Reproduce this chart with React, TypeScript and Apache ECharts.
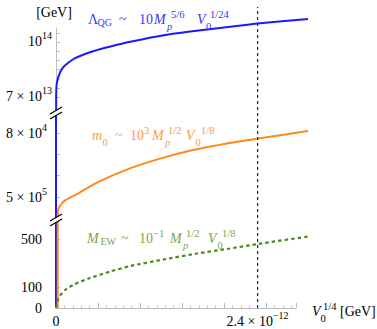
import React, { useEffect, useRef } from "react";
import * as echarts from "echarts";

const SERIF = '"Liberation Serif", "Times New Roman", Times, serif';

// x values are V0^{1/4} in units of 1e-12 GeV
const blueX = [0, 0.002, 0.01, 0.05, 0.1, 0.2, 0.3, 0.45, 0.65, 0.9, 1.3, 1.7, 2.1, 2.4, 3.0];
const blueY = [0, 7.0e13, 7.764e13, 8.364e13, 8.691e13, 9.045e13, 9.264e13, 9.509e13, 9.755e13, 1.0027e14, 1.0382e14, 1.0627e14, 1.0845e14, 1.1009e14, 1.1255e14];

const orangeX = [0.02, 0.021, 0.03, 0.05, 0.095, 0.25, 0.5, 0.881, 1.238, 1.631, 2.036, 2.405, 3.0];
const orangeY = [0, 4.2e5, 4.45e5, 4.6e5, 4.81e5, 5.14e5, 5.7e5, 6.34e5, 6.8e5, 7.2e5, 7.51e5, 7.74e5, 8.09e5];

const greenX = [0.004, 0.006, 0.024, 0.048, 0.107, 0.226, 0.405, 0.643, 0.881, 1.274, 1.679, 2.071, 2.405, 3.0];
const greenY = [0, 14.5, 58, 90.6, 130, 174, 217, 264, 304, 351, 395, 431, 464, 518];

const dashedX = 2.4;

// x tick labels
const xLabelValues = [0, 2.4];
const xLabelBase = ["0", "2.4 × 10"];
const xLabelExp = ["", "−12"];

// y tick labels (three broken segments)
const topTicks = [7e13, 7.5e13, 8e13, 8.5e13, 9e13, 9.5e13, 1e14, 1.05e14];
const topLabelValues = [7e13, 1e14];
const topLabelBase = ["7 × 10", "10"];
const topLabelExp = ["13", "14"];

const midTicks = [5e5, 6e5, 7e5, 8e5];
const midLabelValues = [5e5, 8e5];
const midLabelBase = ["5 × 10", "8 × 10"];
const midLabelExp = ["5", "4"];

const botTicks = [0, 152, 500];
const botLabelValues = [0, 152, 500];
const botLabelBase = ["0", "100", "500"];
const botLabelExp = ["", "", ""];

const BLUE = "#1a1aff";
const ORANGE = "#ff8a1a";
const GREEN = "#4b8a1e";
const BLUE_TXT = "#3434ff";
const ORANGE_TXT = "#ff9a40";
const GREEN_TXT = "#78a64a";
const TICK = "#bdbdbd";

// text pieces: t = text, k = kind, x = left edge (px)
type Piece = { t: string; k: "n" | "i" | "sub" | "subl" | "subli" | "sup"; x: number };

const bluePieces: Piece[] = [
  { t: "Λ", k: "n", x: 88 },
  { t: "QG", k: "sub", x: 97.5 },
  { t: "~", k: "n", x: 119 },
  { t: "10", k: "n", x: 139 },
  { t: "M", k: "i", x: 154 },
  { t: "p", k: "subli", x: 167 },
  { t: "5/6", k: "sup", x: 171 },
  { t: "V", k: "i", x: 197 },
  { t: "0", k: "subl", x: 206 },
  { t: "1/24", k: "sup", x: 210 },
];
const orangePieces: Piece[] = [
  { t: "m", k: "i", x: 92 },
  { t: "0", k: "subl", x: 102.5 },
  { t: "~", k: "n", x: 115 },
  { t: "10", k: "n", x: 130 },
  { t: "3", k: "sup", x: 144 },
  { t: "M", k: "i", x: 152 },
  { t: "p", k: "subli", x: 165 },
  { t: "1/2", k: "sup", x: 168 },
  { t: "V", k: "i", x: 186 },
  { t: "0", k: "subl", x: 195.5 },
  { t: "1/8", k: "sup", x: 201 },
];
const greenPieces: Piece[] = [
  { t: "M", k: "i", x: 87 },
  { t: "EW", k: "sub", x: 100.5 },
  { t: "~", k: "n", x: 121 },
  { t: "10", k: "n", x: 139 },
  { t: "−1", k: "sup", x: 153 },
  { t: "M", k: "i", x: 170 },
  { t: "p", k: "subli", x: 183 },
  { t: "1/2", k: "sup", x: 186 },
  { t: "V", k: "i", x: 208 },
  { t: "0", k: "subl", x: 217.5 },
  { t: "1/8", k: "sup", x: 222 },
];
const xNamePieces: Piece[] = [
  { t: "V", k: "i", x: 312 },
  { t: "0", k: "subl", x: 320.5 },
  { t: "1/4", k: "sup", x: 323 },
  { t: "[GeV]", k: "n", x: 340 },
];

function labelEls(pieces: Piece[], y: number, color: string) {
  return pieces.map((p) => {
    const big = p.k === "n" || p.k === "i";
    const dy = p.k === "sub" ? 3.5 : p.k === "subl" || p.k === "subli" ? 7 : p.k === "sup" ? -5 : 0;
    return {
      type: "text",
      z: 102,
      x: p.x,
      y: y + dy,
      style: {
        text: p.t,
        fill: color,
        fontFamily: SERIF,
        fontSize: big ? 14 : p.k === "sub" ? 10 : 10.5,
        fontStyle: p.k === "i" || p.k === "subli" ? "italic" : "normal",
        align: "left",
        verticalAlign: "middle",
      },
    };
  });
}

function labelFormatter(values: number[], bases: string[], exps: string[], expStyle: string) {
  return (v: number) => {
    let idx = -1;
    let best = Infinity;
    values.forEach((t, i) => {
      const d = Math.abs(t - v);
      if (d < best) {
        best = d;
        idx = i;
      }
    });
    if (idx < 0 || best > Math.abs(values[idx]) * 1e-6 + 1e-9) return "";
    const b = bases[idx];
    const e = exps[idx];
    return e ? `{n|${b}}{${expStyle}|${e}}` : `{n|${b}}`;
  };
}

const axisRich = {
  n: { fontSize: 14, fontFamily: SERIF, color: "#000", align: "left" },
  e: { fontSize: 10, fontFamily: SERIF, color: "#000", width: 0.01, align: "left", padding: [0, 0, 12, 0] },
  ex: { fontSize: 10, fontFamily: SERIF, color: "#000", align: "left", padding: [0, 0, 12, 0] },
};

function panelY(gridIndex: number, min: number, max: number, ticks: number[], lv: number[], lb: string[], le: string[]) {
  return {
    type: "value",
    gridIndex,
    min,
    max,
    axisLine: { show: false },
    splitLine: { show: false },
    axisTick: { show: true, inside: true, length: 4, customValues: ticks, lineStyle: { color: TICK, width: 1 } },
    axisLabel: { show: true, customValues: lv, margin: 14, formatter: labelFormatter(lv, lb, le, "e"), rich: axisRich },
  };
}

function hiddenX(gridIndex: number) {
  return { type: "value", gridIndex, min: 0, max: 3, show: false, splitLine: { show: false } };
}

const pairs = (xs: number[], ys: number[]) => xs.map((x, i) => [x, ys[i]]);

function lineSeries(name: string, data: number[][], idx: number, color: string, width: number, type: any = "solid") {
  return {
    type: "line",
    name,
    xAxisIndex: idx,
    yAxisIndex: idx,
    data,
    showSymbol: false,
    symbol: "none",
    smooth: 0.2,
    lineStyle: { color, width, type },
    silent: true,
    clip: true,
    z: 2,
  };
}

function breakMark(cx: number, cy: number) {
  const hw = 6;
  const hr = 3.5;
  const d = 2.5;
  return [
    {
      type: "polygon",
      z: 100,
      shape: { points: [[cx - hw, cy + hr - d], [cx + hw, cy - hr - d], [cx + hw, cy - hr + d], [cx - hw, cy + hr + d]] },
      style: { fill: "#fff" },
    },
    { type: "line", z: 101, shape: { x1: cx - hw, y1: cy + hr - d, x2: cx + hw, y2: cy - hr - d }, style: { stroke: "#000", lineWidth: 1.2 } },
    { type: "line", z: 101, shape: { x1: cx - hw, y1: cy + hr + d, x2: cx + hw, y2: cy - hr + d }, style: { stroke: "#000", lineWidth: 1.2 } },
  ];
}

const blueData = pairs(blueX, blueY);
const orangeData = pairs(orangeX, orangeY);
const greenData = pairs(greenX, greenY);

const option: any = {
  animation: false,
  backgroundColor: "#fff",
  grid: [
    { left: 56, top: 15, width: 252, height: 97, outerBoundsMode: "none" },
    { left: 56, top: 112, width: 252, height: 107, outerBoundsMode: "none" },
    { left: 56, top: 219, width: 252, height: 89, outerBoundsMode: "none" },
    { left: 56, top: 28, width: 240, height: 280, outerBoundsMode: "none" },
    { left: 56, top: 7, width: 252, height: 301, outerBoundsMode: "none" },
  ],
  xAxis: [
    hiddenX(0),
    hiddenX(1),
    hiddenX(2),
    {
      type: "value",
      gridIndex: 3,
      min: 0,
      max: 240 / 84,
      interval: 0.5,
      axisLine: { show: true, onZero: false, lineStyle: { color: TICK, width: 1 } },
      axisTick: { show: true, inside: true, length: 5, lineStyle: { color: TICK, width: 1 } },
      minorTick: { show: true, splitNumber: 5, length: 3, lineStyle: { color: "#cfcfcf", width: 1 } },
      splitLine: { show: false },
      minorSplitLine: { show: false },
      axisLabel: {
        show: true,
        customValues: xLabelValues,
        margin: 13,
        verticalAlign: "middle",
        formatter: labelFormatter(xLabelValues, xLabelBase, xLabelExp, "ex"),
        rich: axisRich,
      },
    },
    hiddenX(4),
  ],
  yAxis: [
    panelY(0, 6.1818e13, 1.147273e14, topTicks, topLabelValues, topLabelBase, topLabelExp),
    panelY(1, 396875, 898437.5, midTicks, midLabelValues, midLabelBase, midLabelExp),
    panelY(2, 0, 644.93, botTicks, botLabelValues, botLabelBase, botLabelExp),
    {
      type: "value",
      gridIndex: 3,
      min: 0,
      max: 1,
      axisLine: { show: true, lineStyle: { color: TICK, width: 1 } },
      axisTick: { show: false },
      axisLabel: { show: false },
      splitLine: { show: false },
    },
    { type: "value", gridIndex: 4, min: 0, max: 1, show: false, splitLine: { show: false } },
  ],
  series: [
    lineSeries("ΛQG top", blueData, 0, BLUE, 2),
    lineSeries("ΛQG mid", blueData, 1, BLUE, 2),
    lineSeries("ΛQG bottom", blueData, 2, BLUE, 2),
    lineSeries("m0 mid", orangeData, 1, ORANGE, 2),
    lineSeries("m0 bottom", orangeData, 2, ORANGE, 2),
    lineSeries("MEW", greenData, 2, GREEN, 2.2, [3.5, 3]),
    {
      type: "line",
      name: "dashed",
      xAxisIndex: 4,
      yAxisIndex: 4,
      data: [
        [dashedX, 0],
        [dashedX, 1],
      ],
      showSymbol: false,
      symbol: "none",
      lineStyle: { color: "#222", width: 1.2, type: [3, 3] },
      silent: true,
      z: 3,
    },
  ],
  graphic: [
    {
      type: "text",
      z: 102,
      x: 54,
      y: 12,
      style: { text: "[GeV]", fontSize: 14, fontFamily: SERIF, fill: "#000", align: "center", verticalAlign: "middle" },
    },
    ...labelEls(bluePieces, 19, BLUE_TXT),
    ...labelEls(orangePieces, 135, ORANGE_TXT),
    ...labelEls(greenPieces, 238, GREEN_TXT),
    ...labelEls(xNamePieces, 311, "#000"),
    ...breakMark(56, 113),
    ...breakMark(56, 220),
  ],
};

export default function App() {
  const ref = useRef<HTMLDivElement>(null);
  useEffect(() => {
    if (!ref.current) return;
    const chart = echarts.init(ref.current, undefined, { renderer: "svg" });
    chart.setOption(option);
    return () => chart.dispose();
  }, []);
  return <div ref={ref} style={{ position: "absolute", left: 0, top: 0, width: 377, height: 329 }} />;
}
